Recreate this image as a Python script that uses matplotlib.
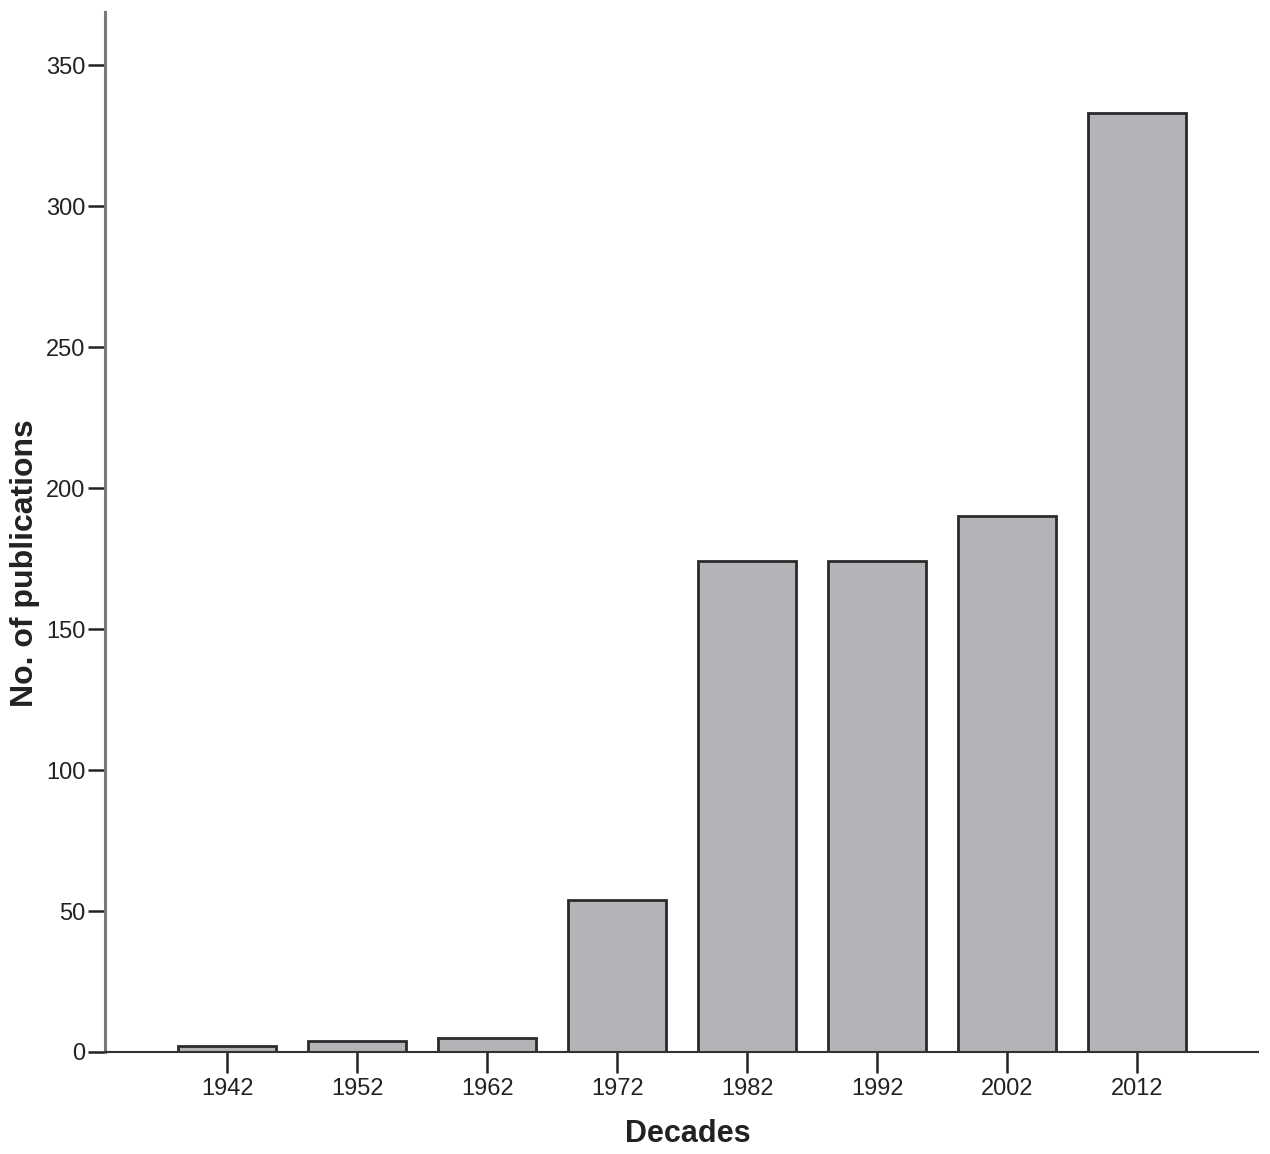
import matplotlib
matplotlib.use("Agg")
import matplotlib.pyplot as plt

decades = ["1942", "1952", "1962", "1972", "1982", "1992", "2002", "2012"]
publications = [2, 4, 5, 54, 174, 174, 190, 333]
y_ticks = [0, 50, 100, 150, 200, 250, 300, 350]

plt.rcParams['font.family'] = ['Liberation Sans', 'DejaVu Sans']

fig = plt.figure(figsize=(12.7, 11.54), dpi=100)
ax = fig.add_axes([105/1270, 102/1154, (1258-105)/1270, (1142-102)/1154])

x = list(range(len(decades)))
ax.bar(x, publications, width=0.75, color="#b3b4b7", edgecolor="#2a2a2a", linewidth=2)

ax.set_xlim(-0.94, 7.93)
ax.set_ylim(0, 368.8)
ax.set_xticks(x)
ax.set_xticklabels(decades)
ax.set_yticks(y_ticks)

for s in ["top", "right"]:
    ax.spines[s].set_visible(False)
ax.spines["left"].set_color("#7a7a7a")
ax.spines["left"].set_linewidth(2.2)
ax.spines["bottom"].set_color("#333333")
ax.spines["bottom"].set_linewidth(1.5)

ax.tick_params(axis="y", direction="out", length=12, width=1.8, color="#222222",
               labelsize=17, pad=2, labelcolor="#222222")
ax.tick_params(axis="x", direction="out", length=15, width=1.8, color="#222222",
               labelsize=17, pad=4, labelcolor="#222222")

ax.set_ylabel("No. of publications", fontsize=23, fontweight="bold", color="#222222",
              va="center")
ax.yaxis.set_label_coords(-0.069, 0.47)
ax.set_xlabel("Decades", fontsize=22, fontweight="bold", color="#222222", va="center")
ax.xaxis.set_label_coords(0.5056, -0.079)

fig.savefig("out.png", dpi=100)
